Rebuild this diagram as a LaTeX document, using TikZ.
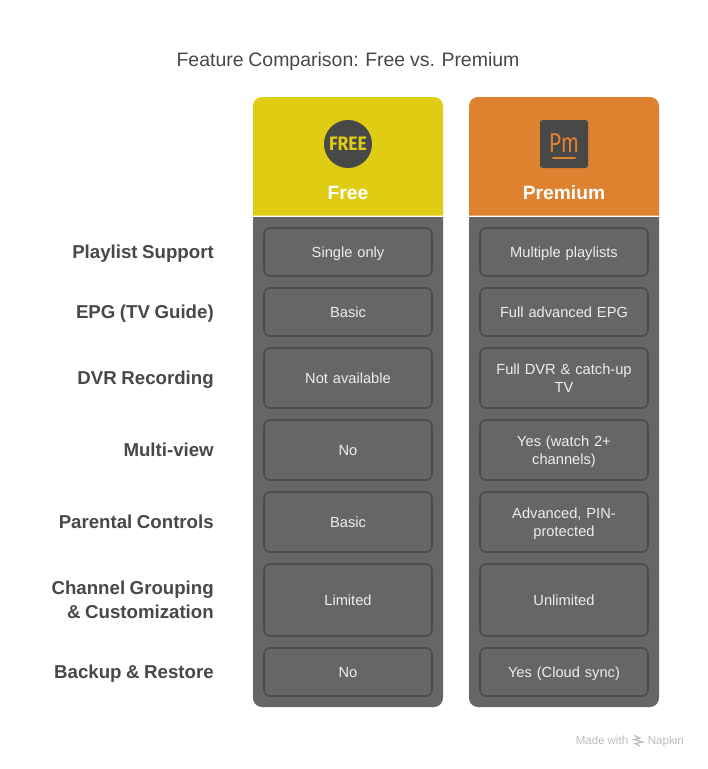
\documentclass[tikz,border=0pt]{standalone}
\usepackage{fontspec}
\setmainfont[WordSpace=0.88]{Liberation Sans}
\newfontfamily\iconfont{Fira Sans}
\definecolor{ink}{HTML}{484848}
\definecolor{body}{HTML}{666666}
\definecolor{edge}{HTML}{4C4C4C}
\definecolor{freecol}{HTML}{E0CC12}
\definecolor{premcol}{HTML}{DE8230}
\definecolor{footgrey}{HTML}{BDBDBD}
\tikzset{
  px/.style={x=0.75pt,y=-0.75pt},
  cell/.style={draw=edge,line width=1.3pt,rounded corners=4.5pt,minimum width=126pt,align=center,
    text=white!93!black,inner sep=0pt,text width=116pt,font=\fontsize{11}{13.5}\selectfont},
  rowlabel/.style={anchor=east,align=right,text=ink,inner sep=0pt,font=\fontsize{14}{18}\selectfont\bfseries},
  headlabel/.style={text=white,inner sep=0pt,font=\fontsize{14.4}{18}\selectfont\bfseries},
  footlabel/.style={anchor=west,text=footgrey,inner sep=0pt,text height=6.3pt,text depth=1.8pt,font=\fontsize{8.7}{10}\selectfont},
}
\newcommand{\tallpart}[1]{\rule{0pt}{#1}}
\newcommand{\deeppart}[1]{\rule[-#1]{0pt}{#1}}
\newcommand{\cellrow}[6]{%
  \node[cell,minimum height=#3*0.75pt] (free#1) at (348,#2) {\tallpart{10.4pt}#4\deeppart{2.4pt}};
  \node[cell,minimum height=#3*0.75pt] (prem#1) at (564,#2) {\tallpart{10.4pt}#5\deeppart{2.4pt}};
  \node[rowlabel] (label#1) at (214,#2) {\tallpart{13pt}#6\deeppart{3pt}};
}
\newcommand{\headshape}[3]{% left x, right x, colour
  \fill[#3] (#1,215.5) -- (#1,106) .. controls (#1,101) and (#1+4,97) .. (#1+9,97) -- (#2-9,97) .. controls (#2-4,97) and (#2,101) .. (#2,106) -- (#2,215.5) -- cycle;
}
\newcommand{\bodyshape}[2]{% left x, right x
  \fill[body] (#1,217) -- (#1,698) .. controls (#1,703) and (#1+4,707) .. (#1+9,707) -- (#2-9,707) .. controls (#2-4,707) and (#2,703) .. (#2,698) -- (#2,217) -- cycle;
}
\begin{document}
\begin{tikzpicture}[px]
\useasboundingbox (0,0) rectangle (708,769);
\fill[white] (0,0) rectangle (708,769);
\node[text=ink,inner sep=0pt,font=\fontsize{14.6}{18}\selectfont] (title) at (348,61) {Feature Comparison: Free vs. Premium};
% columns
\headshape{253}{443}{freecol}
\headshape{469}{659}{premcol}
\bodyshape{253}{443}
\bodyshape{469}{659}
% icons
\node[circle,fill=ink,minimum size=36pt,inner sep=0pt] (freeicon) at (348,144) {};
\node[text=freecol,inner sep=0pt,xscale=0.9,transform shape,font=\iconfont\fontsize{14.6}{15}\selectfont\bfseries] (freetext) at (348,144) {FREE};
\node[rectangle,rounded corners=2pt,fill=ink,minimum size=36pt,inner sep=0pt] (premicon) at (564,144) {};
\node[text=premcol,inner sep=0pt,xscale=0.78,transform shape,font=\iconfont\fontsize{20.5}{21}\selectfont] (pmtext) at (564,143) {Pm};
\draw[premcol,line width=1.5pt,line cap=round] (553,158) -- (575,158);
\node[headlabel] (freehead) at (348,192.5) {Free};
\node[headlabel] (premhead) at (564,192.5) {Premium};
% rows
\cellrow{a}{252}{48}{Single only}{Multiple playlists}{Playlist Support}
\cellrow{b}{312}{48}{Basic}{Full advanced EPG}{EPG (TV Guide)}
\cellrow{c}{378}{60}{Not available}{Full DVR \& catch-up\\TV}{DVR Recording}
\cellrow{d}{450}{60}{No}{Yes (watch 2+\\channels)}{Multi-view}
\cellrow{e}{522}{60}{Basic}{Advanced, PIN-\\protected}{Parental Controls}
\cellrow{f}{600}{72}{Limited}{Unlimited}{Channel Grouping\\\& Customization}
\cellrow{g}{672}{48}{No}{Yes (Cloud sync)}{Backup \& Restore}
% footer
\node[footlabel] (made) at (575.5,741) {Made with};
\draw[footgrey,line width=0.9pt] (634,735.5) -- (640,738) -- (634,739.5) -- (643,742) -- (635,743.5) -- (640,746);
\node[footlabel] (napkin) at (647.5,741) {Napkin};
\end{tikzpicture}
\end{document}
